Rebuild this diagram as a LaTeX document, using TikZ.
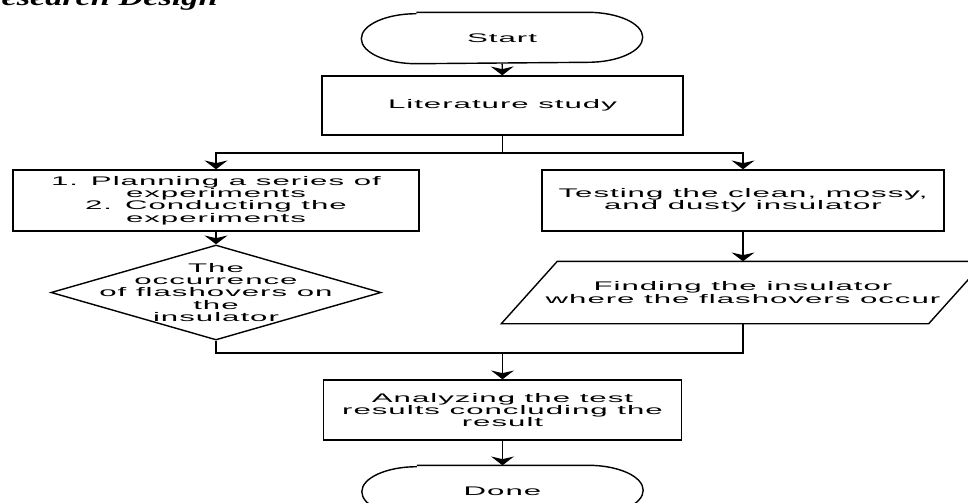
\documentclass[tikz,border=0pt]{standalone}
\usepackage{fontspec}
\setmainfont[FakeStretch=2.5,LetterSpace=8]{Liberation Sans}
\newfontfamily\titlefont[FakeStretch=1.5]{Liberation Serif}
\usetikzlibrary{arrows.meta,shapes.geometric}

\begin{document}
\begin{tikzpicture}[line width=0.8pt,
		font=\fontsize{7.1}{7}\selectfont,
		arr/.style={-{Stealth[length=5pt,width=13pt,inset=1.5pt]}},
		term/.style={minimum width=5.6cm, minimum height=1cm, inner sep=0pt},
		box/.style={draw, rectangle, align=center, minimum height=1.2cm},
		decision/.style={draw, diamond, inner sep=0pt, minimum width=6.6cm, minimum height=1.9cm},
		io/.style={rectangle, align=center, inner sep=0pt, minimum width=9.64cm, minimum height=1.22cm}]
		\useasboundingbox (0,0) rectangle (19.36,-10.04);
		\node[anchor=base west, inner sep=0pt] (title) at (-0.44,-0.1) {\titlefont\fontsize{13}{15}\selectfont\bfseries\itshape Research Design};
		
		\node[term] (start) at (10.04,-0.76) {Start};
		\draw ([xshift=1.1cm]start.north west) -- ([xshift=-1.1cm]start.north east) arc[start angle=90, end angle=-90, x radius=1.1cm, y radius=0.5cm] -- ([xshift=1.1cm]start.south west) arc[start angle=270, end angle=90, x radius=1.1cm, y radius=0.5cm];
		\node[box, minimum width=7.22cm, minimum height=1.18cm] (lit) at (10.05,-2.11) {Literature study};
		\draw[arr] (start) -- (lit);
		
		\coordinate (split) at (10.05,-3.06);
		\node[box, minimum width=8.12cm, minimum height=1.22cm] (plan) at (4.32,-4.01) {1. Planning a series of\\experiments\\2. Conducting the\\experiments};
		\node[box, minimum width=8.04cm, minimum height=1.22cm] (test) at (14.86,-4.01) {Testing the clean, mossy,\\and dusty insulator};
		\draw (lit) -- (split);
		\draw[arr] (split) -| (plan);
		\draw[arr] (split) -| (test);
		
		\node[decision, label={[align=center]center:The\\occurrence\\of flashovers on\\the\\insulator}] (occ) at (4.32,-5.85) {};
		\node[io] (find) at (14.86,-5.85) {Finding the insulator\\where the flashovers occur};
		\draw (find.south west) -- ([xshift=-1.12cm]find.south east) -- (find.north east) -- ([xshift=1.12cm]find.north west) -- cycle;
		\draw[arr] (plan) -- (occ);
		\draw[arr] (test) -- (find);
		
		\coordinate (join) at (10.05,-7.06);
		\node[box, minimum width=7.16cm, minimum height=1.2cm] (ana) at (10.05,-8.2) {Analyzing the test\\results concluding the\\result};
		\draw (occ.south) |- (join);
		\draw (find.south) |- (join);
		\draw[arr] (join) -- (ana);
		
		\node[term] (done) at (10.05,-9.82) {Done};
		\draw ([xshift=1.1cm]done.north west) -- ([xshift=-1.1cm]done.north east) arc[start angle=90, end angle=-90, x radius=1.1cm, y radius=0.5cm] -- ([xshift=1.1cm]done.south west) arc[start angle=270, end angle=90, x radius=1.1cm, y radius=0.5cm];
		\draw[arr] (ana) -- (done);
	\end{tikzpicture}
\end{document}
